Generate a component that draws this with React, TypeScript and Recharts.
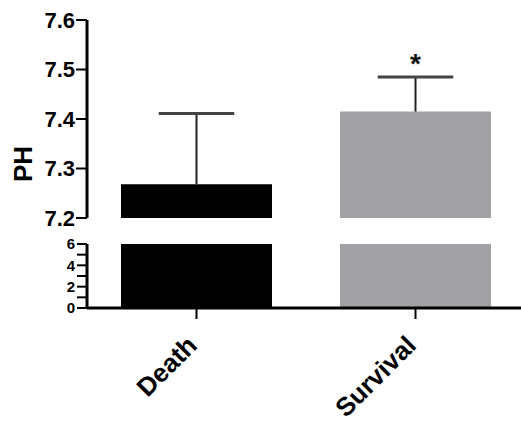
import React from 'react';
import { BarChart, Bar, XAxis, YAxis, Cell } from 'recharts';

const categories = ['Death', 'Survival'];
const meanPH = [7.268, 7.415];
const errorPH = [0.143, 0.07];
const significance = ['', '*'];
const barColors = ['#000000', '#a1a0a5'];
const upperTicks = [7.2, 7.3, 7.4, 7.5, 7.6];
const lowerTicks = [0, 1, 2, 3, 4, 5, 6];

const FONT = '"Liberation Sans", Arial, sans-serif';
const UPPER_TOP = 20;
const LOWER_TOP = 244;
const LOWER_BOTTOM = 308;
const UPPER_HEIGHT = 230;

const data = categories.map((name, i) => ({
  name,
  mean: meanPH[i],
  err: errorPH[i],
  sig: significance[i],
}));

const ErrorShape = (props: any) => {
  const { x, y, width, height, payload } = props;
  const cx = x + width / 2;
  const capHalf = width / 4;
  return (
    <g>
      <line x1={cx} x2={cx} y1={y + height} y2={y} stroke="#222" strokeWidth={2} />
      <line x1={cx - capHalf} x2={cx + capHalf} y1={y} y2={y} stroke="#444" strokeWidth={3} />
      {payload.sig ? (
        <text x={cx} y={y - 4} textAnchor="middle" fontSize={28} fontWeight="bold" fontFamily={FONT} fill="#111">
          {payload.sig}
        </text>
      ) : null}
    </g>
  );
};

const CategoryTick = (props: any) => {
  const { x, y, payload } = props;
  return (
    <g transform={`translate(${x + 2},${y + 26})`}>
      <text textAnchor="end" transform="rotate(-45)" fontSize={26} fontWeight="bold" fontFamily={FONT} fill="#000">
        {payload.value}
      </text>
    </g>
  );
};

const PHLabel = (props: any) => {
  const { viewBox } = props;
  const cy = (UPPER_TOP + LOWER_BOTTOM) / 2;
  const cx = viewBox.x + 23;
  return (
    <text
      x={cx}
      y={cy}
      transform={`rotate(-90, ${cx}, ${cy})`}
      textAnchor="middle"
      dominantBaseline="central"
      fontSize={26}
      fontWeight="bold"
      fontFamily={FONT}
      fill="#000"
    >
      PH
    </text>
  );
};

const tickStyle = { fill: '#000', fontSize: 22, fontWeight: 'bold', fontFamily: FONT };

export default function App() {
  return (
    <div style={{ position: 'absolute', left: 0, top: 0, width: 521, height: 423, overflow: 'hidden', background: '#fff' }}>
      <div style={{ position: 'absolute', left: 0, top: 0 }}>
        <BarChart
          width={525}
          height={UPPER_HEIGHT}
          data={data}
          margin={{ top: UPPER_TOP, right: 0, left: 0, bottom: UPPER_HEIGHT - 218 }}
          barCategoryGap={34}
        >
          <XAxis dataKey="name" hide />
          <YAxis
            width={87}
            type="number"
            domain={[7.2, 7.6]}
            ticks={upperTicks}
            interval={0}
            allowDataOverflow
            tick={tickStyle}
            tickSize={11}
            tickMargin={1}
            axisLine={{ stroke: '#000', strokeWidth: 3 }}
            tickLine={{ stroke: '#000', strokeWidth: 2 }}
            label={<PHLabel />}
          />
          <Bar dataKey="mean" stackId="a" isAnimationActive={false}>
            {data.map((d, i) => (
              <Cell key={d.name} fill={barColors[i]} />
            ))}
          </Bar>
          <Bar dataKey="err" stackId="a" shape={ErrorShape} isAnimationActive={false} />
        </BarChart>
      </div>
      <div style={{ position: 'absolute', left: 0, top: UPPER_HEIGHT }}>
        <BarChart
          width={525}
          height={423 - UPPER_HEIGHT}
          data={data}
          margin={{ top: LOWER_TOP - UPPER_HEIGHT, right: 0, left: 0, bottom: 0 }}
          barCategoryGap={34}
        >
          <XAxis
            dataKey="name"
            height={423 - LOWER_BOTTOM}
            interval={0}
            tick={<CategoryTick />}
            tickSize={11}
            axisLine={{ stroke: '#000', strokeWidth: 3 }}
            tickLine={{ stroke: '#000', strokeWidth: 2 }}
          />
          <YAxis
            width={87}
            type="number"
            domain={[0, 6]}
            ticks={lowerTicks}
            interval={0}
            allowDataOverflow
            tickFormatter={(v: number) => (v % 2 === 0 ? String(v) : '')}
            tick={{ ...tickStyle, fontSize: 15 }}
            tickSize={10}
            tickMargin={2}
            axisLine={{ stroke: '#000', strokeWidth: 3 }}
            tickLine={{ stroke: '#000', strokeWidth: 2 }}
          />
          <Bar dataKey="mean" isAnimationActive={false}>
            {data.map((d, i) => (
              <Cell key={d.name} fill={barColors[i]} />
            ))}
          </Bar>
        </BarChart>
      </div>
    </div>
  );
}
